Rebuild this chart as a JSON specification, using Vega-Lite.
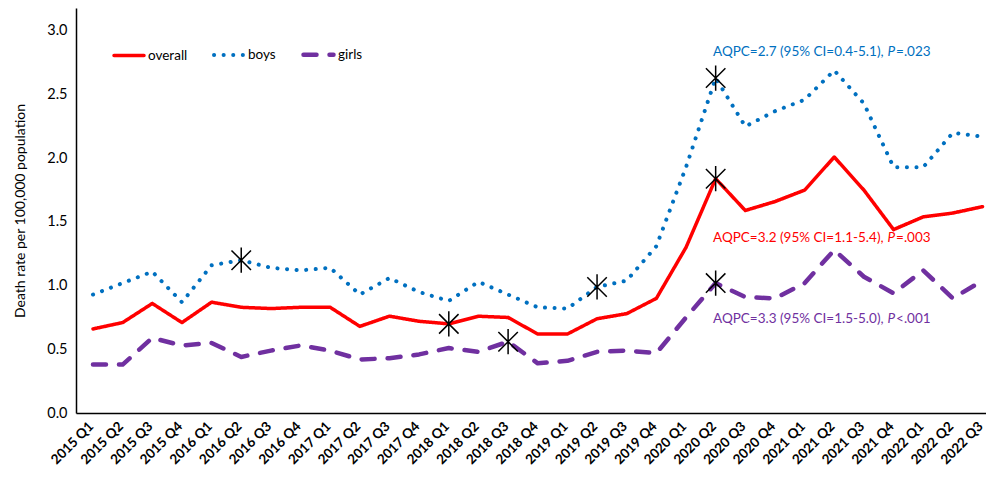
{
  "$schema": "https://vega.github.io/schema/vega-lite/v6.json",
  "width": 910,
  "height": 405,
  "autosize": {"type": "none"},
  "padding": {"left": 76, "top": 8, "right": 0, "bottom": 64},
  "config": {
    "view": {"stroke": null},
    "font": "Lato",
    "axis": {"domainColor": "black", "domainWidth": 1.5, "labelColor": "black", "titleColor": "black", "grid": false, "ticks": false}
  },
  "datasets": {
    "rates": [
      {"quarter": "2015 Q1", "series": "overall", "rate": 0.66}, {"quarter": "2015 Q2", "series": "overall", "rate": 0.71}, {"quarter": "2015 Q3", "series": "overall", "rate": 0.86}, {"quarter": "2015 Q4", "series": "overall", "rate": 0.71},
      {"quarter": "2016 Q1", "series": "overall", "rate": 0.87}, {"quarter": "2016 Q2", "series": "overall", "rate": 0.83}, {"quarter": "2016 Q3", "series": "overall", "rate": 0.82}, {"quarter": "2016 Q4", "series": "overall", "rate": 0.83},
      {"quarter": "2017 Q1", "series": "overall", "rate": 0.83}, {"quarter": "2017 Q2", "series": "overall", "rate": 0.68}, {"quarter": "2017 Q3", "series": "overall", "rate": 0.76}, {"quarter": "2017 Q4", "series": "overall", "rate": 0.72},
      {"quarter": "2018 Q1", "series": "overall", "rate": 0.70}, {"quarter": "2018 Q2", "series": "overall", "rate": 0.76}, {"quarter": "2018 Q3", "series": "overall", "rate": 0.75}, {"quarter": "2018 Q4", "series": "overall", "rate": 0.62},
      {"quarter": "2019 Q1", "series": "overall", "rate": 0.62}, {"quarter": "2019 Q2", "series": "overall", "rate": 0.74}, {"quarter": "2019 Q3", "series": "overall", "rate": 0.78}, {"quarter": "2019 Q4", "series": "overall", "rate": 0.90},
      {"quarter": "2020 Q1", "series": "overall", "rate": 1.30}, {"quarter": "2020 Q2", "series": "overall", "rate": 1.84}, {"quarter": "2020 Q3", "series": "overall", "rate": 1.59}, {"quarter": "2020 Q4", "series": "overall", "rate": 1.66},
      {"quarter": "2021 Q1", "series": "overall", "rate": 1.75}, {"quarter": "2021 Q2", "series": "overall", "rate": 2.01}, {"quarter": "2021 Q3", "series": "overall", "rate": 1.75}, {"quarter": "2021 Q4", "series": "overall", "rate": 1.44},
      {"quarter": "2022 Q1", "series": "overall", "rate": 1.54}, {"quarter": "2022 Q2", "series": "overall", "rate": 1.57}, {"quarter": "2022 Q3", "series": "overall", "rate": 1.62},
      {"quarter": "2015 Q1", "series": "boys", "rate": 0.93}, {"quarter": "2015 Q2", "series": "boys", "rate": 1.02}, {"quarter": "2015 Q3", "series": "boys", "rate": 1.11}, {"quarter": "2015 Q4", "series": "boys", "rate": 0.87},
      {"quarter": "2016 Q1", "series": "boys", "rate": 1.16}, {"quarter": "2016 Q2", "series": "boys", "rate": 1.20}, {"quarter": "2016 Q3", "series": "boys", "rate": 1.14}, {"quarter": "2016 Q4", "series": "boys", "rate": 1.12},
      {"quarter": "2017 Q1", "series": "boys", "rate": 1.14}, {"quarter": "2017 Q2", "series": "boys", "rate": 0.93}, {"quarter": "2017 Q3", "series": "boys", "rate": 1.06}, {"quarter": "2017 Q4", "series": "boys", "rate": 0.95},
      {"quarter": "2018 Q1", "series": "boys", "rate": 0.88}, {"quarter": "2018 Q2", "series": "boys", "rate": 1.03}, {"quarter": "2018 Q3", "series": "boys", "rate": 0.93}, {"quarter": "2018 Q4", "series": "boys", "rate": 0.83},
      {"quarter": "2019 Q1", "series": "boys", "rate": 0.82}, {"quarter": "2019 Q2", "series": "boys", "rate": 0.99}, {"quarter": "2019 Q3", "series": "boys", "rate": 1.04}, {"quarter": "2019 Q4", "series": "boys", "rate": 1.31},
      {"quarter": "2020 Q1", "series": "boys", "rate": 1.93}, {"quarter": "2020 Q2", "series": "boys", "rate": 2.63}, {"quarter": "2020 Q3", "series": "boys", "rate": 2.25}, {"quarter": "2020 Q4", "series": "boys", "rate": 2.37},
      {"quarter": "2021 Q1", "series": "boys", "rate": 2.46}, {"quarter": "2021 Q2", "series": "boys", "rate": 2.69}, {"quarter": "2021 Q3", "series": "boys", "rate": 2.43}, {"quarter": "2021 Q4", "series": "boys", "rate": 1.93},
      {"quarter": "2022 Q1", "series": "boys", "rate": 1.93}, {"quarter": "2022 Q2", "series": "boys", "rate": 2.20}, {"quarter": "2022 Q3", "series": "boys", "rate": 2.17},
      {"quarter": "2015 Q1", "series": "girls", "rate": 0.38}, {"quarter": "2015 Q2", "series": "girls", "rate": 0.38}, {"quarter": "2015 Q3", "series": "girls", "rate": 0.59}, {"quarter": "2015 Q4", "series": "girls", "rate": 0.53},
      {"quarter": "2016 Q1", "series": "girls", "rate": 0.55}, {"quarter": "2016 Q2", "series": "girls", "rate": 0.44}, {"quarter": "2016 Q3", "series": "girls", "rate": 0.49}, {"quarter": "2016 Q4", "series": "girls", "rate": 0.53},
      {"quarter": "2017 Q1", "series": "girls", "rate": 0.49}, {"quarter": "2017 Q2", "series": "girls", "rate": 0.42}, {"quarter": "2017 Q3", "series": "girls", "rate": 0.43}, {"quarter": "2017 Q4", "series": "girls", "rate": 0.46},
      {"quarter": "2018 Q1", "series": "girls", "rate": 0.51}, {"quarter": "2018 Q2", "series": "girls", "rate": 0.48}, {"quarter": "2018 Q3", "series": "girls", "rate": 0.56}, {"quarter": "2018 Q4", "series": "girls", "rate": 0.39},
      {"quarter": "2019 Q1", "series": "girls", "rate": 0.41}, {"quarter": "2019 Q2", "series": "girls", "rate": 0.48}, {"quarter": "2019 Q3", "series": "girls", "rate": 0.49}, {"quarter": "2019 Q4", "series": "girls", "rate": 0.47},
      {"quarter": "2020 Q1", "series": "girls", "rate": 0.75}, {"quarter": "2020 Q2", "series": "girls", "rate": 1.02}, {"quarter": "2020 Q3", "series": "girls", "rate": 0.91}, {"quarter": "2020 Q4", "series": "girls", "rate": 0.90},
      {"quarter": "2021 Q1", "series": "girls", "rate": 1.02}, {"quarter": "2021 Q2", "series": "girls", "rate": 1.28}, {"quarter": "2021 Q3", "series": "girls", "rate": 1.07}, {"quarter": "2021 Q4", "series": "girls", "rate": 0.94},
      {"quarter": "2022 Q1", "series": "girls", "rate": 1.12}, {"quarter": "2022 Q2", "series": "girls", "rate": 0.90}, {"quarter": "2022 Q3", "series": "girls", "rate": 1.04}
    ],
    "joinpoints": [
      {"quarter": "2016 Q2", "series": "boys", "rate": 1.20},
      {"quarter": "2018 Q1", "series": "overall", "rate": 0.70},
      {"quarter": "2018 Q3", "series": "girls", "rate": 0.56},
      {"quarter": "2019 Q2", "series": "boys", "rate": 0.99},
      {"quarter": "2020 Q2", "series": "boys", "rate": 2.63},
      {"quarter": "2020 Q2", "series": "overall", "rate": 1.84},
      {"quarter": "2020 Q2", "series": "girls", "rate": 1.02}
    ],
    "notes": [
      {"quarter": "2021 Q4", "series": "boys", "rate": 2.835, "main": "AQPC=2.7 (95% CI=0.4-5.1),", "stat": "=.023"},
      {"quarter": "2021 Q4", "series": "overall", "rate": 1.374, "main": "AQPC=3.2 (95% CI=1.1-5.4),", "stat": "=.003"},
      {"quarter": "2021 Q4", "series": "girls", "rate": 0.738, "main": "AQPC=3.3 (95% CI=1.5-5.0),", "stat": "<.001"}
    ]
  },
  "encoding": {
    "x": {
      "field": "quarter", "type": "ordinal",
      "scale": {"type": "point", "padding": 0.345, "align": 0.83,
        "domain": ["2015 Q1","2015 Q2","2015 Q3","2015 Q4","2016 Q1","2016 Q2","2016 Q3","2016 Q4","2017 Q1","2017 Q2","2017 Q3","2017 Q4","2018 Q1","2018 Q2","2018 Q3","2018 Q4","2019 Q1","2019 Q2","2019 Q3","2019 Q4","2020 Q1","2020 Q2","2020 Q3","2020 Q4","2021 Q1","2021 Q2","2021 Q3","2021 Q4","2022 Q1","2022 Q2","2022 Q3"]},
      "axis": {"title": null, "labelAngle": -45, "labelAlign": "right", "labelBaseline": "middle", "labelFontWeight": "bold", "labelFontSize": 13.5, "labelPadding": 11, "labelOffset": -2}
    },
    "y": {
      "field": "rate", "type": "quantitative",
      "scale": {"domain": [0, 3.18], "nice": false},
      "axis": {"values": [0, 0.5, 1, 1.5, 2, 2.5, 3], "format": ".1f", "title": "Death rate per 100,000 population", "labelFontSize": 14.5, "labelPadding": 9, "titleFontSize": 14, "titleFontWeight": "normal", "titlePadding": 19}
    }
  },
  "layer": [
    {
      "data": {"name": "rates"},
      "mark": {"type": "line", "strokeCap": "round", "strokeJoin": "round"},
      "encoding": {
        "color": {
          "field": "series", "type": "nominal",
          "scale": {"domain": ["overall", "boys", "girls"], "range": ["#FF0000", "#0070C0", "#7030A0"]},
          "legend": {"orient": "none", "legendX": 36, "legendY": 29, "direction": "horizontal", "title": null, "symbolType": "stroke", "symbolSize": 900, "symbolStrokeWidth": 4, "labelFontSize": 13.5, "labelColor": "black", "labelOffset": 2, "columnPadding": 18,
            "encode": {"symbols": {"update": {"strokeCap": {"value": "round"}}}}}
        },
        "strokeDash": {
          "field": "series", "type": "nominal",
          "scale": {"domain": ["overall", "boys", "girls"], "range": [[1, 0], [0.1, 9.5], [13, 13]]},
          "legend": {"orient": "none", "legendX": 36, "legendY": 29, "direction": "horizontal", "title": null, "symbolType": "stroke", "symbolSize": 900, "symbolStrokeWidth": 4, "labelFontSize": 13.5, "labelColor": "black", "labelOffset": 2, "columnPadding": 18,
            "encode": {"symbols": {"update": {"strokeCap": {"value": "round"}}}}}
        },
        "strokeWidth": {
          "field": "series", "type": "nominal",
          "scale": {"domain": ["overall", "boys", "girls"], "range": [3.5, 4.5, 5]},
          "legend": null
        }
      }
    },
    {
      "data": {"name": "joinpoints"},
      "mark": {"type": "point", "shape": "M-1,-1L1,1M-1,1L1,-1M0,-1.3L0,1.3", "size": 380, "filled": false, "color": "black", "strokeWidth": 1.5, "opacity": 1}
    },
    {
      "data": {"name": "notes"},
      "mark": {"type": "text", "align": "right", "baseline": "middle", "fontSize": 13.5, "dx": -10},
      "encoding": {
        "text": {"field": "main"},
        "color": {"condition": [{"test": "datum.series === 'boys'", "value": "#0070C0"}, {"test": "datum.series === 'overall'", "value": "#FF0000"}], "value": "#7030A0"}
      }
    },
    {
      "data": {"name": "notes"},
      "mark": {"type": "text", "align": "left", "baseline": "middle", "fontSize": 13.5, "fontStyle": "italic", "dx": -6},
      "encoding": {
        "text": {"value": "P"},
        "color": {"condition": [{"test": "datum.series === 'boys'", "value": "#0070C0"}, {"test": "datum.series === 'overall'", "value": "#FF0000"}], "value": "#7030A0"}
      }
    },
    {
      "data": {"name": "notes"},
      "mark": {"type": "text", "align": "left", "baseline": "middle", "fontSize": 13.5, "dx": 2.5},
      "encoding": {
        "text": {"field": "stat"},
        "color": {"condition": [{"test": "datum.series === 'boys'", "value": "#0070C0"}, {"test": "datum.series === 'overall'", "value": "#FF0000"}], "value": "#7030A0"}
      }
    }
  ]
}
